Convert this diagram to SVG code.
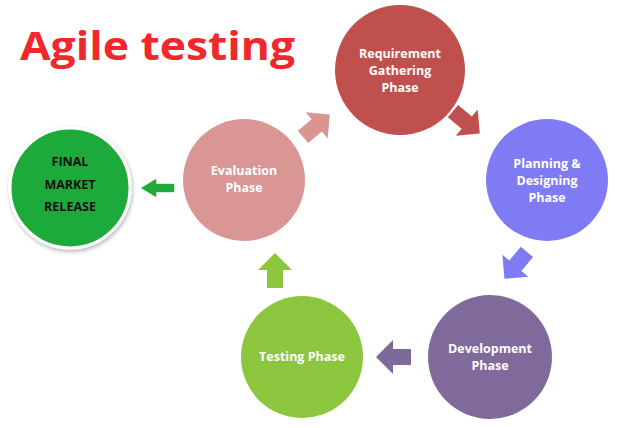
<svg xmlns="http://www.w3.org/2000/svg" width="622" height="428" viewBox="0 0 622 428">
<style>
.t{font-family:"Open Sans","Liberation Sans",sans-serif;font-weight:bold;font-size:12.5px;fill:#fff;text-anchor:middle}
.k{fill:#111}
</style>
<defs>
<polygon id="ar" points="-17,-8 1,-8 1,-17 18,0 1,17 1,8 -17,8"/>
<filter id="sh" x="-20%" y="-20%" width="140%" height="140%"><feDropShadow dx="1" dy="2" stdDeviation="2" flood-color="#000" flood-opacity="0.3"/></filter>
</defs>
<rect width="622" height="428" fill="#fff"/>
<text x="20" y="60" font-family="'Open Sans','Liberation Sans',sans-serif" font-weight="bold" font-size="40" fill="#F0282B" textLength="275" lengthAdjust="spacingAndGlyphs">Agile testing</text>
<g id="connectors">
<use href="#ar" fill="#D99690" transform="translate(316,126) rotate(-40)"/>
<use href="#ar" fill="#C0504D" transform="translate(466,122) rotate(40)"/>
<use href="#ar" fill="#7F7BF2" transform="translate(516,265) rotate(130)"/>
<use href="#ar" fill="#7D6A9B" transform="translate(394,357) rotate(180)"/>
<use href="#ar" fill="#8CC63F" transform="translate(275,271) rotate(-90)"/>
<use href="#ar" fill="#1FAA3A" stroke="#fff" stroke-width="1.5" transform="translate(158,188) rotate(180) scale(1,0.6)"/>
</g>
<g id="req"><circle cx="400" cy="70" r="65" fill="#C0504D"/>
<text class="t" x="400" y="58">Requirement</text><text class="t" x="400" y="75">Gathering</text><text class="t" x="400" y="92">Phase</text></g>
<g id="plan"><circle cx="547" cy="180" r="61" fill="#7F7BF5"/>
<text class="t" x="547" y="168">Planning &amp;</text><text class="t" x="547" y="185">Designing</text><text class="t" x="547" y="202">Phase</text></g>
<g id="dev"><circle cx="490" cy="357" r="62" fill="#7F6A9B"/>
<text class="t" x="490" y="353">Development</text><text class="t" x="490" y="370">Phase</text></g>
<g id="test"><circle cx="302" cy="357" r="61" fill="#8CC63F"/>
<text class="t" x="302" y="361">Testing Phase</text></g>
<g id="eval"><circle cx="244" cy="180" r="61" fill="#D99694"/>
<text class="t" x="244" y="175">Evaluation</text><text class="t" x="244" y="192">Phase</text></g>
<g id="final"><circle cx="70" cy="188" r="60" fill="#1DAA3A" stroke="#fff" stroke-width="3" filter="url(#sh)"/>
<text class="t k" x="70" y="166">FINAL</text><text class="t k" x="70" y="189">MARKET</text><text class="t k" x="70" y="211">RELEASE</text></g>
</svg>
